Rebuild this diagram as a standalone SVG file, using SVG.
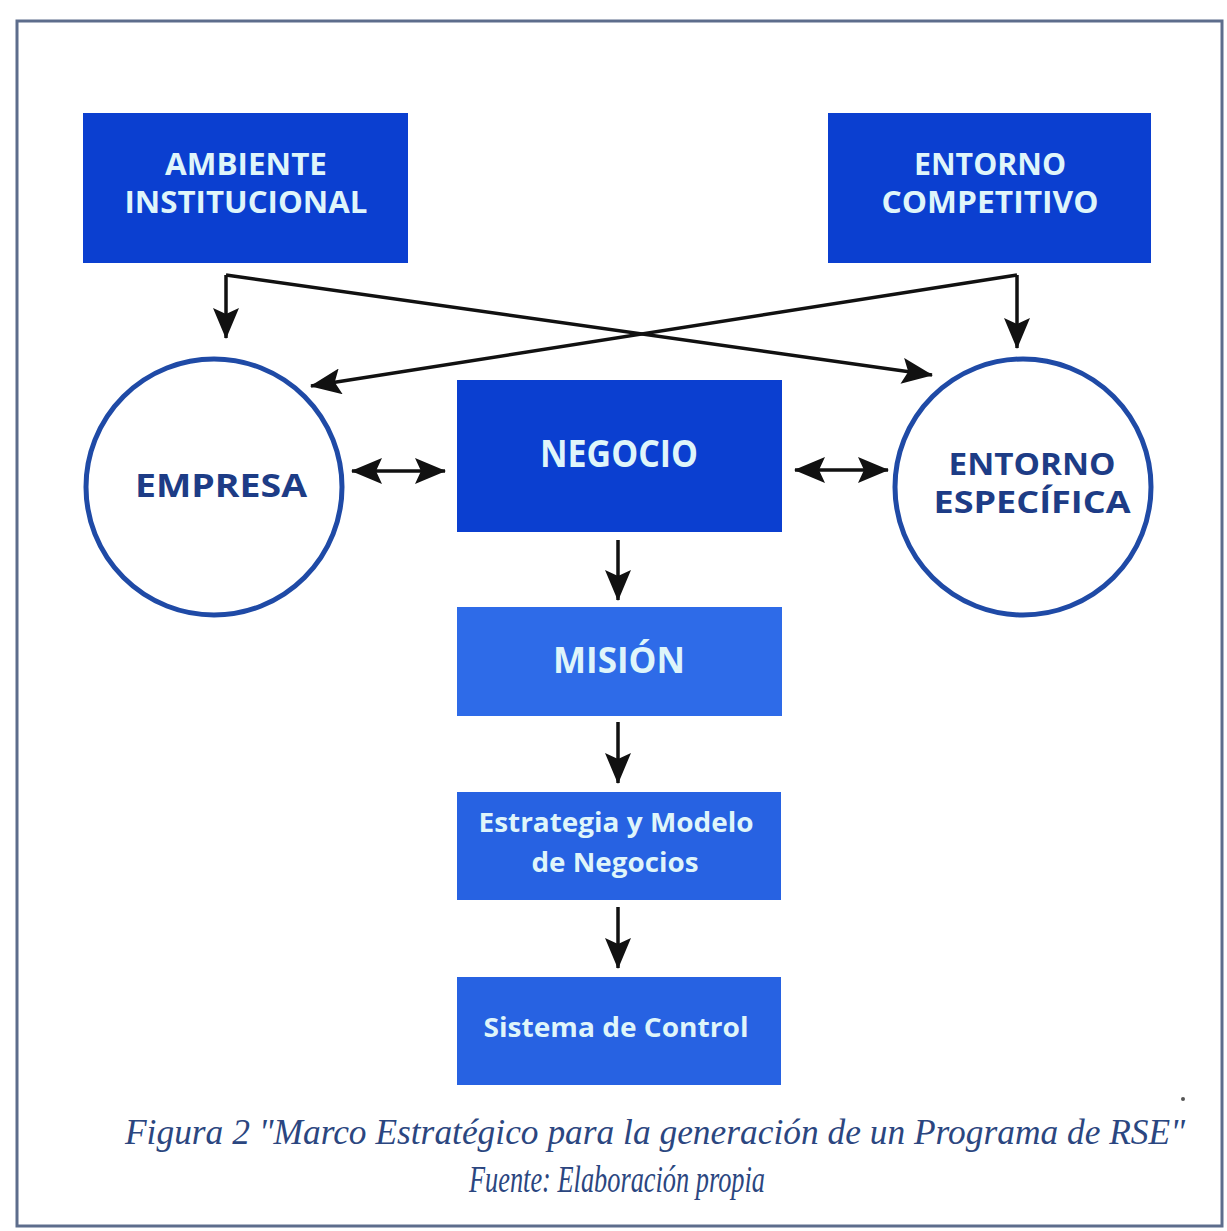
<svg xmlns="http://www.w3.org/2000/svg" width="1227" height="1231" viewBox="0 0 1227 1231">
<style>
.dark{fill:#0b3fd0}
.mid{fill:#2e6be8}
.lt{fill:#2762e2}
.bt{font-family:"Open Sans","Noto Sans",sans-serif;font-weight:bold;fill:#dff5fa;text-anchor:middle}
.ct{font-family:"Open Sans","Noto Sans",sans-serif;font-weight:bold;fill:#1d3c86;text-anchor:middle}
.circ{fill:#ffffff;stroke:#1f4aa6;stroke-width:5}
.con{stroke:#111;stroke-width:3.5;fill:none}
.cap{font-family:"Liberation Serif",serif;font-style:italic;fill:#2b4680;text-anchor:middle}
</style>
<defs>
<marker id="ah" markerUnits="userSpaceOnUse" markerWidth="32" markerHeight="26" refX="30" refY="13" orient="auto-start-reverse">
<path d="M0,0 L31,13 L0,26 L6,13 z" fill="#111"/>
</marker>
</defs>
<rect width="1227" height="1231" fill="#ffffff"/>
<rect x="17" y="21" width="1205" height="1205" fill="none" stroke="#5d6d8c" stroke-width="3"/>

<g id="connectors">
<path class="con" d="M226,275 L226,338" marker-end="url(#ah)"/>
<path class="con" d="M226,275 L932,375" marker-end="url(#ah)"/>
<path class="con" d="M1017,275 L1017,348" marker-end="url(#ah)"/>
<path class="con" d="M1017,275 L311,386" marker-end="url(#ah)"/>
<path class="con" d="M352,471 L445,471" marker-start="url(#ah)" marker-end="url(#ah)"/>
<path class="con" d="M795,470 L888,470" marker-start="url(#ah)" marker-end="url(#ah)"/>
<path class="con" d="M618,540 L618,600" marker-end="url(#ah)"/>
<path class="con" d="M618,722 L618,783" marker-end="url(#ah)"/>
<path class="con" d="M618,907 L618,968" marker-end="url(#ah)"/>
</g>

<g id="ambiente">
<rect class="dark" x="83" y="113" width="325" height="150"/>
<text class="bt" x="246" y="175" font-size="30" textLength="162" lengthAdjust="spacingAndGlyphs">AMBIENTE</text>
<text class="bt" x="246" y="213" font-size="30" textLength="243" lengthAdjust="spacingAndGlyphs">INSTITUCIONAL</text>
</g>

<g id="competitivo">
<rect class="dark" x="828" y="113" width="323" height="150"/>
<text class="bt" x="990" y="175" font-size="30" textLength="152" lengthAdjust="spacingAndGlyphs">ENTORNO</text>
<text class="bt" x="990" y="213" font-size="30" textLength="217" lengthAdjust="spacingAndGlyphs">COMPETITIVO</text>
</g>

<g id="empresa">
<circle class="circ" cx="214" cy="487" r="128"/>
<text class="ct" x="221" y="497" font-size="32" textLength="172" lengthAdjust="spacingAndGlyphs">EMPRESA</text>
</g>

<g id="especifica">
<circle class="circ" cx="1023" cy="487" r="128"/>
<text class="ct" x="1032" y="475" font-size="30" textLength="167" lengthAdjust="spacingAndGlyphs">ENTORNO</text>
<text class="ct" x="1032" y="513" font-size="30" textLength="197" lengthAdjust="spacingAndGlyphs">ESPECÍFICA</text>
</g>

<g id="negocio">
<rect class="dark" x="457" y="380" width="325" height="152"/>
<text class="bt" x="619" y="467" font-size="37" textLength="158" lengthAdjust="spacingAndGlyphs">NEGOCIO</text>
</g>

<g id="mision">
<rect class="mid" x="457" y="607" width="325" height="109"/>
<text class="bt" x="619" y="673" font-size="35" textLength="132" lengthAdjust="spacingAndGlyphs">MISIÓN</text>
</g>

<g id="estrategia">
<rect class="lt" x="457" y="792" width="324" height="108"/>
<text class="bt" x="616" y="832" font-size="26" textLength="275" lengthAdjust="spacingAndGlyphs">Estrategia y Modelo</text>
<text class="bt" x="615" y="872" font-size="26" textLength="167" lengthAdjust="spacingAndGlyphs">de Negocios</text>
</g>

<g id="sistema">
<rect class="lt" x="457" y="977" width="324" height="108"/>
<text class="bt" x="616" y="1037" font-size="26" textLength="265" lengthAdjust="spacingAndGlyphs">Sistema de Control</text>
</g>

<circle cx="1183" cy="1099" r="2" fill="#555"/>
<g id="caption">
<text class="cap" x="655" y="1144" font-size="35" textLength="1060" lengthAdjust="spacingAndGlyphs">Figura 2 "Marco Estratégico para la generación de un Programa de RSE"</text>
<text class="cap" x="617" y="1192" font-size="37" textLength="296" lengthAdjust="spacingAndGlyphs">Fuente: Elaboración propia</text>
</g>
</svg>
